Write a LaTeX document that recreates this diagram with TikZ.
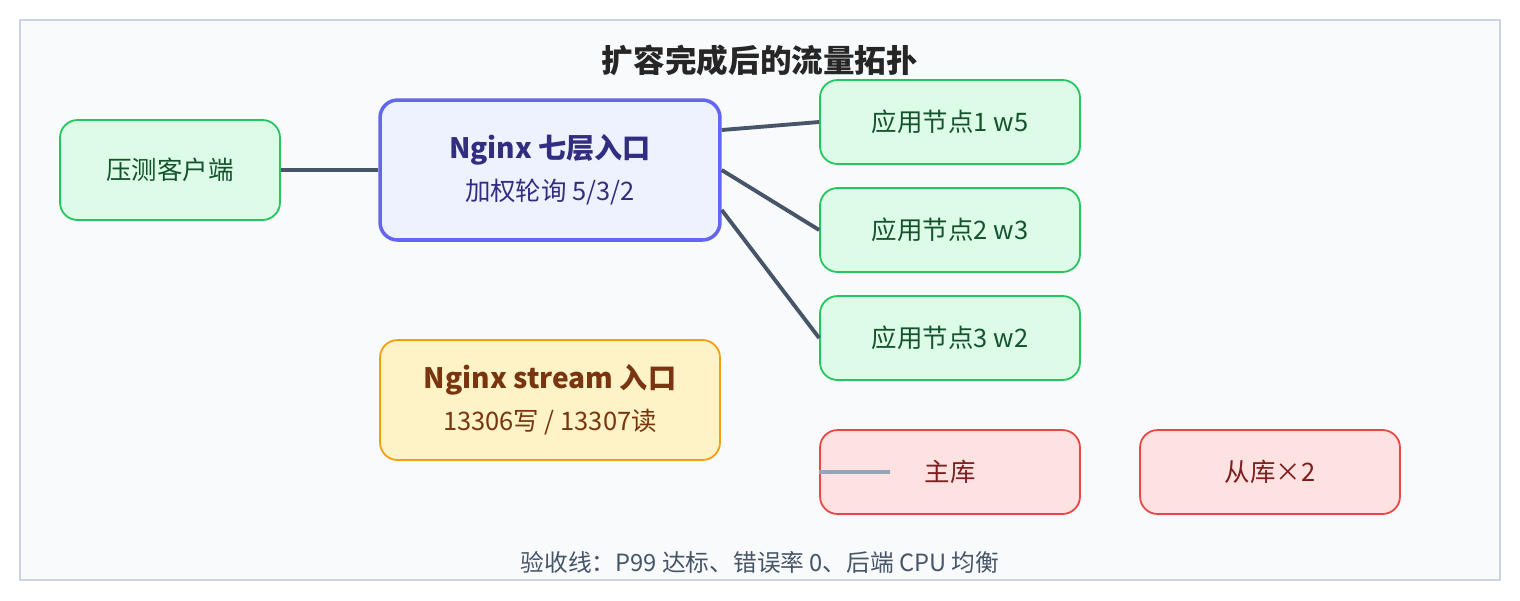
\documentclass[tikz,border=0pt]{standalone}
\usepackage{fontspec}
\setmainfont{Noto Sans CJK SC}
\usetikzlibrary{positioning}
\definecolor{frameBg}{HTML}{F8FAFC}
\definecolor{frameLn}{HTML}{CBD5E1}
\definecolor{linkCol}{HTML}{475569}
\definecolor{grnFill}{HTML}{DCFCE7}
\definecolor{grnLine}{HTML}{22C55E}
\definecolor{grnText}{HTML}{14532D}
\definecolor{bluFill}{HTML}{EEF2FF}
\definecolor{bluLine}{HTML}{6366F1}
\definecolor{bluText}{HTML}{312E81}
\definecolor{ylwFill}{HTML}{FEF3C7}
\definecolor{ylwLine}{HTML}{F59E0B}
\definecolor{ylwText}{HTML}{78350F}
\definecolor{redFill}{HTML}{FEE2E2}
\definecolor{redLine}{HTML}{EF4444}
\definecolor{redText}{HTML}{7F1D1D}
\definecolor{stubCol}{HTML}{94A3B8}
\tikzset{
  box/.style={rectangle,rounded corners=10pt,line width=1pt,align=center,font=\fontsize{14.5}{18}\selectfont},
  app/.style={box,fill=grnFill,draw=grnLine,text=grnText,minimum width=5.2cm,minimum height=1.68cm},
  db/.style={box,fill=redFill,draw=redLine,text=redText,minimum width=5.2cm,minimum height=1.68cm},
  link/.style={draw=linkCol,line width=2.2pt}
}
\begin{document}
\begin{tikzpicture}[x=0.02cm,y=-0.02cm]
\useasboundingbox (0,0) rectangle (1520,600);
\draw[frameLn,fill=frameBg,line width=0.8pt] (20,20) rectangle (1500,580);

\node[font=\fontsize{18}{22}\selectfont\bfseries,text=black!85] (title) at (760,60) {扩容完成后的流量拓扑};

\node[box,fill=grnFill,draw=grnLine,text=grnText,minimum width=4.4cm,minimum height=2cm] (client) at (170,170) {压测客户端};
\node[box,fill=bluFill,draw=bluLine,text=bluText,line width=2pt,minimum width=6.8cm,minimum height=2.8cm] (l7) at (550,170)
  {\textbf{\fontsize{16}{20}\selectfont Nginx 七层入口}\\[6pt]加权轮询 5/3/2};

\node[app] (app1) at (950,122) {应用节点1 w5};
\node[app] (app2) at (950,230) {应用节点2 w3};
\node[app] (app3) at (950,338) {应用节点3 w2};

\node[box,fill=ylwFill,draw=ylwLine,text=ylwText,minimum width=6.8cm,minimum height=2.4cm] (stream) at (550,400)
  {\textbf{\fontsize{16}{20}\selectfont Nginx stream 入口}\\[6pt]13306写 / 13307读};

\node[db] (master) at (950,472) {主库};
\node[db] (slave) at (1270,472) {从库×2};
\coordinate (stub) at (890,472);
\draw[stubCol,line width=2.2pt] (master.west) -- (stub);

% links
\draw[link] (client.east) -- (l7.west);
\draw[link] (l7.east |- 0,130) -- (app1.west);
\draw[link] (l7.east) -- (app2.west);
\draw[link] (l7.east |- 0,210) -- (app3.west);

\node[font=\fontsize{13.5}{16}\selectfont,text=linkCol] (footer) at (760,562) {验收线：P99 达标、错误率 0、后端 CPU 均衡};
\end{tikzpicture}
\end{document}
